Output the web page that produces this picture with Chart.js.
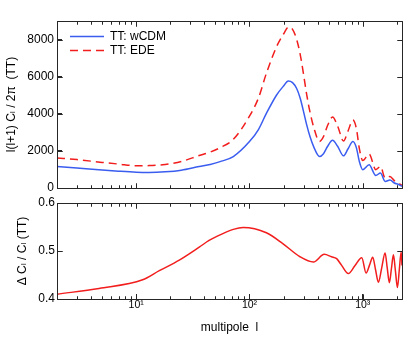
<!DOCTYPE html>
<html>
<head>
<meta charset="utf-8">
<script src="https://cdn.jsdelivr.net/npm/chart.js@4.4.1/dist/chart.umd.min.js"></script>
<style>
  body { margin: 0; background: #fff; }
  canvas { display: block; }
</style>
</head>
<body>
<canvas id="cl-chart" width="411" height="344"></canvas>
<script>
const ttL = [2, 3, 5, 7, 10, 13, 18, 25, 36, 45, 55, 72, 100, 120, 141, 173, 200, 220, 240, 261,
  280, 298, 320, 342, 370, 415, 450, 490, 541, 600, 676, 740, 818, 880, 930, 1000, 1137, 1303,
  1433, 1577, 1738, 1900, 2050, 2220];
const ttWCDM = [1160, 1080, 970, 905, 850, 836, 870, 960, 1160, 1270, 1420, 1694, 2500, 3150, 4020,
  5000, 5500, 5770, 5680, 5360, 4850, 4200, 3400, 2770, 2200, 1694, 1850, 2250, 2574, 2250, 1732,
  2100, 2500, 2150, 1460, 990, 1250, 676, 804, 354, 429, 270, 200, 90];
const ttEDE = [1620, 1530, 1380, 1290, 1200, 1206, 1268, 1424, 1750, 1935, 2170, 2620, 3870, 4850,
  6180, 7600, 8300, 8665, 8550, 8000, 7220, 6250, 5030, 4100, 3250, 2510, 2770, 3380, 3820, 3340,
  2536, 3060, 3660, 3180, 2170, 1480, 1830, 990, 1160, 530, 615, 395, 285, 135];

// relative difference (EDE - wCDM) / wCDM
const deltaL = [2, 4.7, 11.4, 16, 24, 36, 44, 51, 72, 88, 141, 198, 279, 367, 457, 530, 588, 651,
  746, 855, 980, 1070, 1145, 1225, 1297, 1374, 1470, 1574, 1644, 1718, 1790, 1865, 1943, 2024,
  2102, 2183, 2220];
const deltaTT = [0.410, 0.422, 0.440, 0.459, 0.481, 0.508, 0.522, 0.530, 0.545, 0.549, 0.538, 0.515,
  0.488, 0.477, 0.493, 0.488, 0.484, 0.470, 0.453, 0.470, 0.486, 0.454, 0.470, 0.487, 0.461, 0.435,
  0.465, 0.496, 0.465, 0.434, 0.463, 0.492, 0.458, 0.424, 0.461, 0.498, 0.470];

const xMajorTicks = [10, 100, 1000];
const xTickLabels = ['10\u00b9', '10\u00b2', '10\u00b3'];
const xMinorTicks = [2, 3, 4, 5, 6, 7, 8, 9, 20, 30, 40, 50, 60, 70, 80, 90,
  200, 300, 400, 500, 600, 700, 800, 900, 2000];
const ttTicks = [0, 2000, 4000, 6000, 8000];
const deltaTicks = [0.4, 0.5, 0.6];

const BLUE = '#3a5df0';
const RED = '#f21d1d';
const INK = '#262626';

Chart.defaults.font.family = "'Liberation Sans', 'DejaVu Sans', sans-serif";
Chart.defaults.color = '#000';

// rest of the matlab style box round each panel, ticks pointing inward
function drawFrames(chart) {
  const { ctx, chartArea: a, scales } = chart;
  const x = scales.x;
  const L = Math.round(a.left) + 0.5, R = Math.round(a.right) + 0.5;
  ctx.save();
  ctx.strokeStyle = INK;
  ctx.lineWidth = 1;
  ctx.setLineDash([]);
  ctx.beginPath();
  [scales.yTT, scales.yDelta].forEach(y => {
    const T = Math.round(y.top) + 0.5, B = Math.round(y.bottom) + 0.5;
    const xTick = (v, len) => {
      const px = Math.round(x.getPixelForValue(v)) + 0.5;
      ctx.moveTo(px, T); ctx.lineTo(px, T + len);
      ctx.moveTo(px, B); ctx.lineTo(px, B - len);
    };
    xMinorTicks.forEach(v => xTick(v, 3));
    xMajorTicks.forEach(v => xTick(v, 5));
    y.ticks.forEach(t => {
      const py = Math.round(y.getPixelForValue(t.value)) + 0.5;
      ctx.moveTo(L, py); ctx.lineTo(L + 5, py);
      ctx.moveTo(R, py); ctx.lineTo(R - 5, py);
    });
    ctx.moveTo(L, T); ctx.lineTo(R, T); ctx.lineTo(R, B); ctx.lineTo(L, B); ctx.closePath();
  });
  ctx.stroke();
  ctx.restore();
}

const frameTicks = {
  id: 'frameTicks',
  afterDatasetsDraw: drawFrames,
  afterDraw: drawFrames
};

// the legend sits inside the upper panel, a little off the corner
const placeLegend = {
  id: 'placeLegend',
  afterLayout(chart) {
    const lg = chart.legend;
    if (!lg) return;
    const h = lg.height;
    lg.left = chart.chartArea.left + 11;
    lg.top = chart.chartArea.top + 7.5;
    lg.bottom = lg.top + Math.max(h, 40);
  }
};

const lineStyle = { pointRadius: 0, borderWidth: 1.5, cubicInterpolationMode: 'monotone' };
const hiddenGrid = { display: false, drawTicks: false };
// axis line plus short inward ticks, drawn by the scale itself
const inwardGrid = { display: true, drawOnChartArea: false, drawTicks: true, tickLength: -5,
  tickColor: INK, tickWidth: 1 };
const axisBorder = { display: true, color: INK, width: 1 };

new Chart(document.getElementById('cl-chart'), {
  type: 'line',
  data: {
    datasets: [
      { label: 'TT: wCDM', data: ttL.map((l, i) => ({ x: l, y: ttWCDM[i] })), yAxisID: 'yTT',
        borderColor: BLUE, backgroundColor: BLUE, ...lineStyle },
      { label: 'TT: EDE', data: ttL.map((l, i) => ({ x: l, y: ttEDE[i] })), yAxisID: 'yTT',
        borderColor: RED, backgroundColor: RED, borderDash: [8, 5], ...lineStyle },
      { label: 'delta', data: deltaL.map((l, i) => ({ x: l, y: deltaTT[i] })), yAxisID: 'yDelta',
        borderColor: RED, backgroundColor: RED, ...lineStyle }
    ]
  },
  options: {
    responsive: false,
    animation: false,
    layout: { padding: { top: 21, right: 9, bottom: 0, left: 0 } },
    scales: {
      x: {
        type: 'logarithmic', min: 2, max: 2220,
        afterBuildTicks: s => { s.ticks = xMajorTicks.map(v => ({ value: v })); },
        afterFit: s => { s.height = 45; },
        ticks: { font: { size: 10.5 }, padding: 5, autoSkip: false, maxRotation: 0,
          callback: (v, i) => xTickLabels[i] },
        grid: inwardGrid,
        border: axisBorder,
        title: { display: true, text: 'multipole  l', font: { size: 12 },
          padding: { top: 0, bottom: 9 } }
      },
      // stacked left axes are laid out last-defined on top, so the lower panel comes first
      yDelta: {
        axis: 'y', position: 'left', stack: 'panels', stackWeight: 96,
        min: 0.4, max: 0.6,
        afterBuildTicks: s => { s.ticks = deltaTicks.map(v => ({ value: v })); },
        afterFit: s => { s.width = 57; },
        ticks: { font: { size: 12 }, padding: 7, callback: v => v.toFixed(1) },
        grid: inwardGrid,
        border: axisBorder,
        title: { display: true, text: '\u0394 C\u2097 / C\u2097 (TT)', font: { size: 12 },
          padding: { top: 15, bottom: 0 } }
      },
      yGap: {
        axis: 'y', position: 'left', stack: 'panels', stackWeight: 15,
        min: 0, max: 1,
        afterFit: s => { s.width = 57; },
        ticks: { display: false },
        grid: hiddenGrid,
        border: { display: false }
      },
      yTT: {
        axis: 'y', position: 'left', stack: 'panels', stackWeight: 167,
        min: 0, max: 9000,
        afterBuildTicks: s => { s.ticks = ttTicks.map(v => ({ value: v })); },
        afterFit: s => { s.width = 57; },
        ticks: { font: { size: 12 }, padding: 8, callback: v => String(v) },
        grid: inwardGrid,
        border: axisBorder,
        title: { display: true, text: 'l(l+1) C\u2097 / 2\u03c0  (TT)', font: { size: 12 },
          padding: { top: 4, bottom: 0 } }
      }
    },
    plugins: {
      legend: {
        position: 'chartArea', align: 'start',
        labels: {
          usePointStyle: true, pointStyle: 'line', pointStyleWidth: 34,
          font: { size: 12 }, padding: 2,
          filter: item => item.datasetIndex < 2,
          generateLabels: chart => Chart.defaults.plugins.legend.labels.generateLabels(chart)
            .map(item => {
              const ds = chart.data.datasets[item.datasetIndex];
              item.lineDash = ds.borderDash || [];
              item.lineWidth = ds.borderWidth;
              item.strokeStyle = ds.borderColor;
              return item;
            })
        }
      },
      tooltip: { enabled: false }
    }
  },
  plugins: [frameTicks, placeLegend]
});
</script>
</body>
</html>
